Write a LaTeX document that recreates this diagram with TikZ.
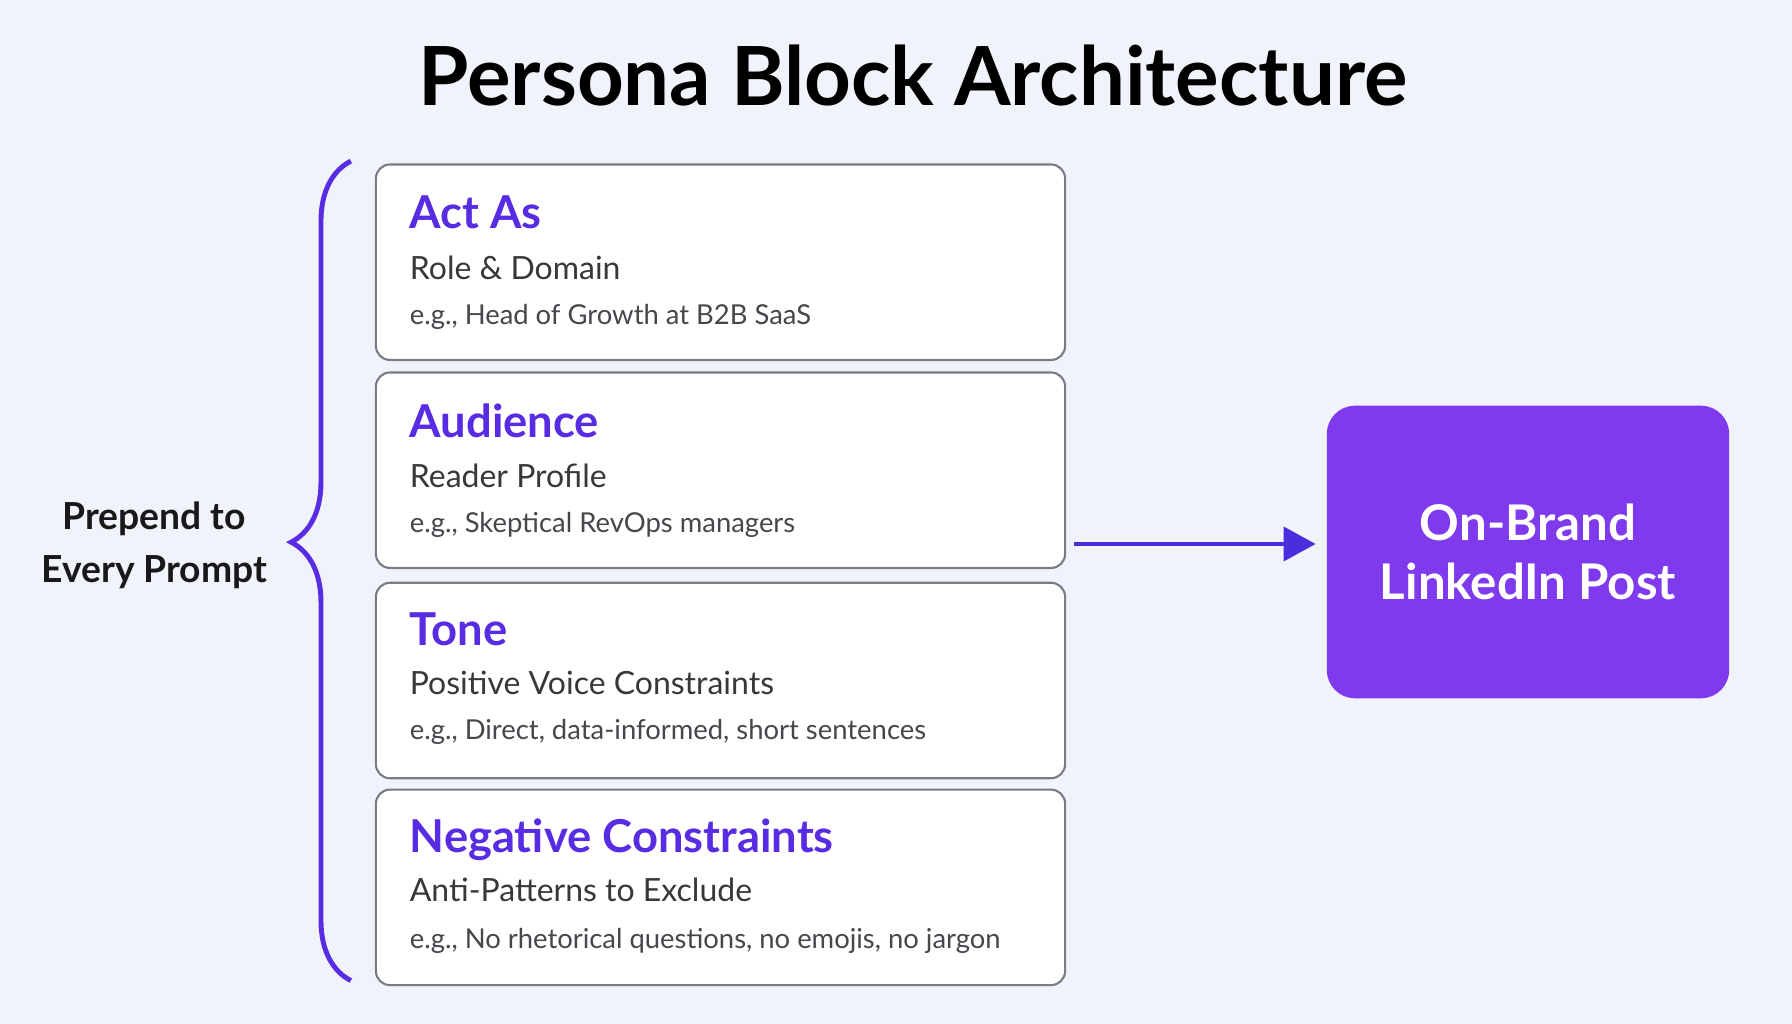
\documentclass[tikz,border=0pt]{standalone}
\usepackage{fontspec}
\setmainfont{Lato}
\usetikzlibrary{arrows.meta, positioning, decorations.pathreplacing}
\definecolor{pageBg}{RGB}{241, 243, 251}
\definecolor{headPurple}{RGB}{88, 44, 226}
\definecolor{boxBorder}{RGB}{120, 124, 134}
\definecolor{subText}{RGB}{55, 55, 60}
\definecolor{noteText}{RGB}{70, 70, 76}
\definecolor{outFill}{RGB}{126, 58, 236}
\definecolor{arrowColor}{RGB}{76, 45, 222}

\begin{document}
\begin{tikzpicture}[x=0.01143cm, y=-0.01143cm]

% Style definitions
\tikzset{
    block/.style={
        rectangle, draw=boxBorder, line width=0.6pt, fill=white,
        rounded corners=4pt, minimum width=6.892cm, minimum height=1.955cm, anchor=north west
    },
    heading/.style={font=\bfseries\fontsize{12.9}{16}\selectfont, text=headPurple, anchor=base west, inner sep=0pt},
    subline/.style={font=\fontsize{9.1}{11}\selectfont, text=subText, anchor=base west, inner sep=0pt},
    note/.style={font=\fontsize{7.8}{9}\selectfont, text=noteText, anchor=base west, inner sep=0pt},
    wire/.style={draw=arrowColor, line width=1.1pt, -{Triangle[length=3.2mm, width=3.4mm]}}
}

% Background
\fill [pageBg] (0,0) rectangle (1568,896);

% Title
\node (title) [font=\bfseries\fontsize{23.2}{28}\selectfont] at (799,66) {Persona Block Architecture};

% Blocks
\node (actas) [block] at (328,143) {};
\node [heading] at (358,200) {Act As};
\node [subline] at (358,245) {Role \& Domain};
\node [note] at (358,284) {e.g., Head of Growth at B2B SaaS};

\node (audience) [block] at (328,325) {};
\node [heading] at (358,383) {Audience};
\node [subline] at (358,427) {Reader Profile};
\node [note] at (358,466) {e.g., Skeptical RevOps managers};

\node (tone) [block] at (328,509) {};
\node [heading] at (358,565) {Tone};
\node [subline] at (358,608) {Positive Voice Constraints};
\node [note] at (358,647) {e.g., Direct, data-informed, short sentences};

\node (negative) [block] at (328,690) {};
\node [heading] at (358,746) {Negative Constraints};
\node [subline] at (358,789) {Anti-Patterns to Exclude};
\node [note] at (358,830) {e.g., No rhetorical questions, no emojis, no jargon};

% Output
\node (post) [rectangle, fill=outFill, rounded corners=8pt, minimum width=4.023cm,
    minimum height=2.926cm, text=white, align=center,
    font=\bfseries\fontsize{14}{17}\selectfont] at (1337,483) {On-Brand\\LinkedIn Post};

% Brace and label
\coordinate (brace_bot) at (307,858);
\coordinate (brace_top) at (307,141);
\draw [headPurple, line width=1.4pt, decorate, decoration={brace, amplitude=17pt, aspect=0.535}]
    (brace_bot) -- (brace_top);
\node (prepend) [font=\bfseries\fontsize{10.6}{15}\selectfont, align=center, text=black!90] at (135,477)
    {Prepend to\\Every Prompt};

% Connection
\coordinate (arrow_start) at (940,476);
\draw [wire, shorten >=3pt] (arrow_start) -- (post.west |- arrow_start);

\end{tikzpicture}
\end{document}
